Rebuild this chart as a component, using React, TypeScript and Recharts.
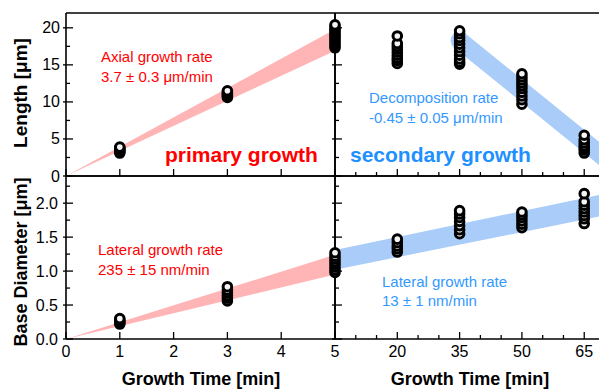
import { ComposedChart, XAxis, YAxis, Scatter, Area, Line } from 'recharts';

const W = 610;
const H = 390;
const FONT = '"Liberation Sans", Arial, sans-serif';
const RED = '#ff0000';
const RED_BAND = '#ffb5b5';
const BLUE = '#1e90ff';
const BLUE_TEXT = '#3399ff';
const BLUE_BAND = '#a9ccf8';

// Length [um] measured at each growth time
const lengthAt1 = [3.1, 3.3, 3.45, 3.6, 3.75, 3.9];
const lengthAt3 = [10.6, 10.8, 10.95, 11.1, 11.3, 11.5];
const lengthAt5 = [17.3, 17.6, 17.9, 18.2, 18.5, 18.8, 19.0, 19.3, 19.6, 19.8, 20.1, 20.4];
const lengthAt20 = [15.2, 15.6, 15.9, 16.3, 16.7, 17.1, 17.5, 17.9, 18.9];
const lengthAt35 = [15.1, 15.4, 15.8, 16.3, 16.8, 17.3, 17.8, 18.3, 18.7, 19.2, 19.6];
const lengthAt50 = [9.7, 10.3, 10.8, 11.3, 11.8, 12.2, 12.6, 13.0, 13.4, 13.8];
const lengthAt65 = [3.1, 3.5, 3.8, 4.1, 4.5, 4.9, 5.5];

// Base diameter [um] measured at each growth time
const diamAt1 = [0.22, 0.24, 0.26, 0.28, 0.3];
const diamAt3 = [0.56, 0.6, 0.64, 0.68, 0.72, 0.77];
const diamAt5 = [0.98, 1.02, 1.06, 1.1, 1.14, 1.18, 1.22, 1.27];
const diamAt20 = [1.28, 1.33, 1.37, 1.42, 1.47];
const diamAt35 = [1.55, 1.61, 1.67, 1.73, 1.79, 1.84, 1.89];
const diamAt50 = [1.64, 1.69, 1.74, 1.79, 1.83, 1.87];
const diamAt65 = [1.7, 1.77, 1.82, 1.87, 1.92, 1.97, 2.02, 2.14];

// rate bands (time, low, high)
const axialBandT = [0, 5];
const axialBandLow = [0, 16.9];
const axialBandHigh = [0, 19.8];
const decompT = [35, 70];
const decompMid = [18.3, 2.4];
const lateral1T = [0, 5];
const lateral1Low = [0, 0.95];
const lateral1High = [0, 1.24];
const lateral2T = [5, 70];
const lateral2Low = [1.02, 1.82];
const lateral2High = [1.31, 2.14];

// axis ticks
const leftXTicks = [0, 1, 2, 3, 4, 5];
const rightXTicks = [5, 10, 15, 20, 25, 30, 35, 40, 45, 50, 55, 60, 65, 70];
const rightXMajor = [5, 20, 35, 50, 65];
const lengthTicks = [0, 2.5, 5, 7.5, 10, 12.5, 15, 17.5, 20];
const lengthMajor = [0, 5, 10, 15, 20];
const diamTicks = [0, 0.25, 0.5, 0.75, 1, 1.25, 1.5, 1.75, 2, 2.25];
const diamMajor = [0, 0.5, 1, 1.5, 2];

const pts = (t: number, vals: number[]) => vals.map((v) => ({ t, v }));
const band = (ts: number[], lo: number[], hi: number[]) =>
  ts.map((t, i) => ({ t, band: [lo[i], hi[i]] }));
const line = (ts: number[], vs: number[]) => ts.map((t, i) => ({ t, v: vs[i] }));

const TICK = { stroke: '#000', strokeWidth: 1.3 };
const AXIS = { stroke: '#000', strokeWidth: 1.6 };

function Dot(props: any) {
  return <circle cx={props.cx} cy={props.cy} r={4.3} fill="#f4f4f4" stroke="#000" strokeWidth={3} />;
}

type Box = { left: number; right: number; top: number; bottom: number };

const makeTick =
  (side: 'bottom' | 'top' | 'left' | 'right', major: number[], labels: number[], fmt: (v: number) => string, labelX = 0) =>
  (p: any) => {
    const v = p.payload.value;
    const len = major.includes(v) ? 7 : 4;
    const out = side === 'left' && major.includes(v) ? 3 : 0;
    let l;
    if (side === 'bottom') l = <line x1={p.x} x2={p.x} y1={p.y} y2={p.y - len} {...TICK} />;
    else if (side === 'top') l = <line x1={p.x} x2={p.x} y1={p.y} y2={p.y + len} {...TICK} />;
    else if (side === 'left') l = <line x1={p.x - out} x2={p.x + len} y1={p.y} y2={p.y} {...TICK} />;
    else l = <line x1={p.x} x2={p.x - len} y1={p.y} y2={p.y} {...TICK} />;
    const show = labels.includes(v);
    return (
      <g>
        {l}
        {show && side === 'bottom' && (
          <text x={p.x} y={p.y + 18} textAnchor="middle" fontSize={16} fontFamily={FONT} fill="#000">
            {fmt(v)}
          </text>
        )}
        {show && side === 'left' && (
          <text x={labelX} y={p.y + 5.5} textAnchor="end" fontSize={16} fontFamily={FONT} fill="#000">
            {fmt(v)}
          </text>
        )}
      </g>
    );
  };

function Panel(props: {
  box: Box;
  xDomain: [number, number];
  yDomain: [number, number];
  xTicks: number[];
  xMajor: number[];
  xLabels: number[];
  yTicks: number[];
  yMajor: number[];
  yLabels: number[];
  yFmt: (v: number) => string;
  yLabelX: number;
  children: any;
}) {
  const { box } = props;
  const none: number[] = [];
  const str = (v: number) => String(v);
  return (
    <ComposedChart
      width={W}
      height={H}
      margin={{ top: box.top - 1, left: box.left - 1, right: W - box.right - 1, bottom: H - box.bottom - 1 }}
      style={{ position: 'absolute', left: 0, top: 0 }}
    >
      <XAxis
        xAxisId="b"
        type="number"
        dataKey="t"
        domain={props.xDomain}
        ticks={props.xTicks}
        interval={0}
        height={1}
        tickSize={0}
        tickMargin={0}
        axisLine={AXIS}
        tickLine={false}
        tick={makeTick('bottom', props.xMajor, props.xLabels, str)}
      />
      <XAxis
        xAxisId="t"
        orientation="top"
        type="number"
        dataKey="t"
        domain={props.xDomain}
        ticks={props.xTicks}
        interval={0}
        height={1}
        tickSize={0}
        tickMargin={0}
        axisLine={AXIS}
        tickLine={false}
        tick={makeTick('top', props.xMajor, none, str)}
      />
      <YAxis
        yAxisId="l"
        type="number"
        dataKey="v"
        domain={props.yDomain}
        ticks={props.yTicks}
        interval={0}
        width={1}
        tickSize={0}
        tickMargin={0}
        axisLine={AXIS}
        tickLine={false}
        tick={makeTick('left', props.yMajor, props.yLabels, props.yFmt, props.yLabelX)}
      />
      <YAxis
        yAxisId="r"
        orientation="right"
        type="number"
        dataKey="v"
        domain={props.yDomain}
        ticks={props.yTicks}
        interval={0}
        width={1}
        tickSize={0}
        tickMargin={0}
        axisLine={AXIS}
        tickLine={false}
        tick={makeTick('right', props.yMajor, none, str)}
      />
      {props.children}
    </ComposedChart>
  );
}

const ids = { xAxisId: 'b', yAxisId: 'l' };

export default function App() {
  const topLeft: Box = { left: 66, right: 335, top: 13, bottom: 176 };
  const topRight: Box = { left: 335, right: 605, top: 13, bottom: 176 };
  const botLeft: Box = { left: 66, right: 335, top: 176, bottom: 339 };
  const botRight: Box = { left: 335, right: 605, top: 176, bottom: 339 };
  const f1 = (v: number) => v.toFixed(1);
  const f0 = (v: number) => String(v);

  const txt = { fontFamily: FONT, fontSize: 15 };
  return (
    <div style={{ position: 'fixed', left: 0, top: 0, width: 599, height: 390, overflow: 'hidden', background: '#fff' }}>
      <Panel
        box={topRight}
        xDomain={[5, 70]}
        yDomain={[0, 22]}
        xTicks={rightXTicks}
        xMajor={rightXMajor}
        xLabels={[]}
        yTicks={lengthTicks}
        yMajor={lengthMajor}
        yLabels={[]}
        yFmt={f0}
        yLabelX={0}
      >
        <Line {...ids} data={line(decompT, decompMid)} dataKey="v" type="linear" stroke={BLUE_BAND} strokeWidth={18} strokeLinecap="round" dot={false} isAnimationActive={false} />
        <Scatter {...ids} data={[...pts(20, lengthAt20), ...pts(35, lengthAt35), ...pts(50, lengthAt50), ...pts(65, lengthAt65)]} shape={Dot} isAnimationActive={false} />
      </Panel>
      <Panel
        box={botRight}
        xDomain={[5, 70]}
        yDomain={[0, 2.4]}
        xTicks={rightXTicks}
        xMajor={rightXMajor}
        xLabels={[20, 35, 50, 65]}
        yTicks={diamTicks}
        yMajor={diamMajor}
        yLabels={[]}
        yFmt={f1}
        yLabelX={0}
      >
        <Area {...ids} data={band(lateral2T, lateral2Low, lateral2High)} dataKey="band" type="linear" fill={BLUE_BAND} fillOpacity={1} stroke="none" isAnimationActive={false} />
        <Scatter {...ids} data={[...pts(20, diamAt20), ...pts(35, diamAt35), ...pts(50, diamAt50), ...pts(65, diamAt65)]} shape={Dot} isAnimationActive={false} />
      </Panel>
      <Panel
        box={topLeft}
        xDomain={[0, 5]}
        yDomain={[0, 22]}
        xTicks={leftXTicks}
        xMajor={leftXTicks}
        xLabels={[]}
        yTicks={lengthTicks}
        yMajor={lengthMajor}
        yLabels={lengthMajor}
        yFmt={f0}
        yLabelX={60}
      >
        <Area {...ids} data={band(axialBandT, axialBandLow, axialBandHigh)} dataKey="band" type="linear" fill={RED_BAND} fillOpacity={1} stroke="none" isAnimationActive={false} />
        <Scatter {...ids} data={[...pts(1, lengthAt1), ...pts(3, lengthAt3), ...pts(5, lengthAt5)]} shape={Dot} isAnimationActive={false} />
      </Panel>
      <Panel
        box={botLeft}
        xDomain={[0, 5]}
        yDomain={[0, 2.4]}
        xTicks={leftXTicks}
        xMajor={leftXTicks}
        xLabels={leftXTicks}
        yTicks={diamTicks}
        yMajor={diamMajor}
        yLabels={diamMajor}
        yFmt={f1}
        yLabelX={58}
      >
        <Area {...ids} data={band(lateral1T, lateral1Low, lateral1High)} dataKey="band" type="linear" fill={RED_BAND} fillOpacity={1} stroke="none" isAnimationActive={false} />
        <Scatter {...ids} data={[...pts(1, diamAt1), ...pts(3, diamAt3), ...pts(5, diamAt5)]} shape={Dot} isAnimationActive={false} />
      </Panel>

      <svg width={599} height={390} style={{ position: 'absolute', left: 0, top: 0 }}>
        <g {...txt} fill={RED}>
          <text x={101} y={62}>Axial growth rate</text>
          <text x={101} y={82}>3.7 ± 0.3 μm/min</text>
          <text x={98} y={255}>Lateral growth rate</text>
          <text x={98} y={275}>235 ± 15 nm/min</text>
        </g>
        <g {...txt} fill={BLUE_TEXT}>
          <text x={369} y={103}>Decomposition rate</text>
          <text x={369} y={123}>-0.45 ± 0.05 μm/min</text>
          <text x={382} y={287}>Lateral growth rate</text>
          <text x={382} y={306}>13 ± 1 nm/min</text>
        </g>
        <text x={165} y={162} fontFamily={FONT} fontSize={21} fontWeight="bold" fill={RED}>primary growth</text>
        <text x={350} y={162} fontFamily={FONT} fontSize={21} fontWeight="bold" fill={BLUE}>secondary growth</text>
        <g fontFamily={FONT} fontSize={18} fontWeight="bold" fill="#000" textAnchor="middle">
          <text x={201} y={385}>Growth Time [min]</text>
          <text x={470} y={385}>Growth Time [min]</text>
          <text transform="translate(27,93) rotate(-90)" fontSize={19}>Length [μm]</text>
          <text transform="translate(27,262) rotate(-90)">Base Diameter [μm]</text>
        </g>
      </svg>
    </div>
  );
}
